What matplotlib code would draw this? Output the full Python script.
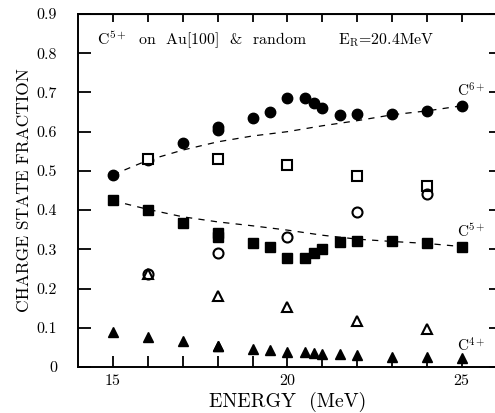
import matplotlib
matplotlib.use("Agg")
import matplotlib.pyplot as plt
import numpy as np

plt.rcParams['font.family'] = ['cmr10', 'DejaVu Serif']
plt.rcParams['mathtext.fontset'] = 'cm'
plt.rcParams['axes.formatter.use_mathtext'] = True

# Random direction (filled markers)
e_rand = [15, 16, 17, 18, 18, 19, 19.5, 20, 20.5, 20.75, 21, 21.5, 22, 23, 24, 25]
c6_rand = [0.490, 0.527, 0.570, 0.611, 0.603, 0.636, 0.649, 0.685, 0.685, 0.672, 0.661, 0.643, 0.644, 0.644, 0.653, 0.665]
c5_rand = [0.426, 0.400, 0.368, 0.341, 0.332, 0.317, 0.307, 0.277, 0.277, 0.290, 0.302, 0.319, 0.322, 0.322, 0.315, 0.305]
c4_rand = [0.088, 0.076, 0.066, 0.054, 0.054, 0.047, 0.043, 0.037, 0.037, 0.035, 0.033, 0.033, 0.031, 0.026, 0.025, 0.022]

# Channeled Au[100] (open markers)
e_chan = [16, 18, 20, 22, 24]
c6_chan = [0.530, 0.530, 0.514, 0.487, 0.461]
c5_chan = [0.237, 0.290, 0.332, 0.394, 0.440]
c4_chan = [0.237, 0.181, 0.154, 0.117, 0.096]

# Dashed equilibrium curves
e_curve = [15, 16, 17, 18, 19, 20, 21, 22, 23, 24, 25]
c6_curve = [0.490, 0.527, 0.553, 0.574, 0.589, 0.600, 0.615, 0.628, 0.643, 0.653, 0.666]
c5_curve = [0.424, 0.402, 0.383, 0.370, 0.360, 0.349, 0.336, 0.326, 0.320, 0.315, 0.307]

xticks = [15, 20, 25]
yticks = [0, 0.1, 0.2, 0.3, 0.4, 0.5, 0.6, 0.7, 0.8, 0.9]
ytick_labels = ['0', '0.1', '0.2', '0.3', '0.4', '0.5', '0.6', '0.7', '0.8', '0.9']

fig = plt.figure(figsize=(4.95, 4.13), dpi=100)
W, H = 495, 413
ax = fig.add_axes([78 / W, 46 / H, 418.8 / W, 353 / H])

ax.plot(e_curve, c6_curve, ls=(0, (5, 5)), color='black', lw=0.9)
ax.plot(e_curve, c5_curve, ls=(0, (5, 5)), color='black', lw=0.9)

ax.plot(e_rand, c6_rand, 'o', color='black', ms=7.5, ls='none')
ax.plot(e_rand, c5_rand, 's', color='black', ms=6.6, ls='none')
ax.plot(e_rand, c4_rand, '^', color='black', ms=7.2, ls='none')

ax.plot(e_chan, c6_chan, 's', mfc='white', mec='black', mew=1.5, ms=7.0, ls='none')
ax.plot(e_chan, c5_chan, 'o', mfc='none', mec='black', mew=1.5, ms=7.2, ls='none')
ax.plot(e_chan, c4_chan, '^', mfc='none', mec='black', mew=1.5, ms=7.5, ls='none')

ax.set_xlim(14, 26)
ax.set_ylim(0, 0.9)
ax.set_xticks(xticks)
ax.set_xticks(np.arange(15, 26, 1), minor=True)
ax.set_yticks(yticks)
ax.set_yticklabels(ytick_labels)

ax.tick_params(axis='x', which='both', direction='in', length=7.7, width=1.3, labelsize=11.5, pad=4)
ax.tick_params(axis='y', which='both', direction='in', length=9.4, width=1.3, labelsize=11.5, pad=15)
for s in ax.spines.values():
    s.set_linewidth(1.4)

secx = ax.secondary_xaxis('top')
secx.set_xticks(np.arange(15, 26, 1))
secx.tick_params(direction='in', length=5.8, width=1.3, labeltop=False)
secy = ax.secondary_yaxis('right')
secy.set_yticks(yticks)
secy.tick_params(direction='in', length=5.8, width=1.3, labelright=False)

ax.set_xlabel('ENERGY  (MeV)', fontsize=14.3, labelpad=3)
ax.set_ylabel('CHARGE STATE FRACTION', fontsize=12.5, labelpad=3)

ax.text(0.045, 0.926, r'C$^{5+}$  on  Au[100]  &  random', transform=ax.transAxes, fontsize=11.4, va='center', ha='left')
ax.text(0.62, 0.926, r'E$_{\rm R}$=20.4MeV', transform=ax.transAxes, fontsize=11.4, va='center', ha='left')

ax.text(25.27, 0.704, r'C$^{6+}$', fontsize=11, ha='center', va='center')
ax.text(25.28, 0.347, r'C$^{5+}$', fontsize=11, ha='center', va='center')
ax.text(25.28, 0.054, r'C$^{4+}$', fontsize=11, ha='center', va='center')

fig.savefig('out.png', dpi=100)
